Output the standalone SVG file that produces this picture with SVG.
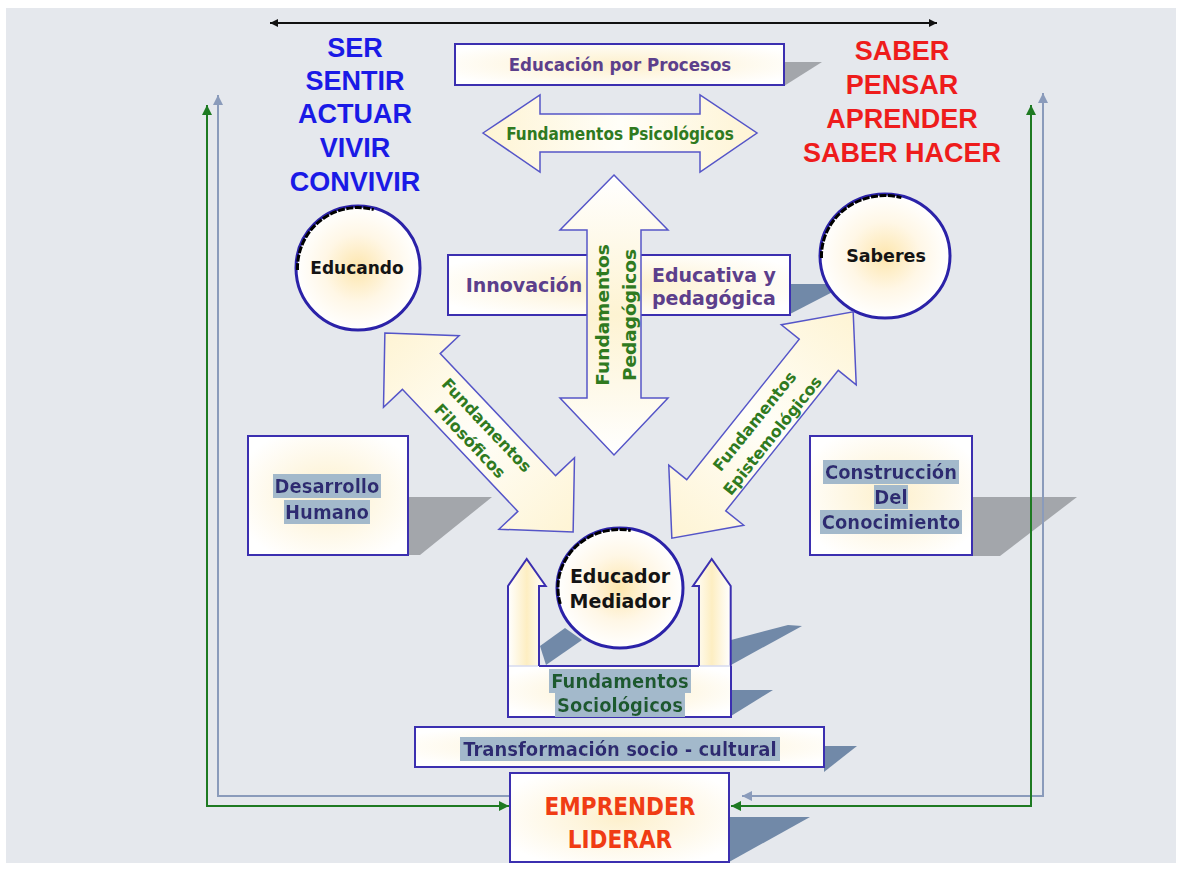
<svg xmlns="http://www.w3.org/2000/svg" width="1181" height="874" viewBox="0 0 1181 874">
<defs>
  <radialGradient id="glow" cx="0.5" cy="0.5" r="0.5">
    <stop offset="0" stop-color="#fde6ad"/>
    <stop offset="0.55" stop-color="#fff7e6"/>
    <stop offset="1" stop-color="#ffffff"/>
  </radialGradient>
  <radialGradient id="boxglow" cx="0.5" cy="0.5" r="0.6">
    <stop offset="0" stop-color="#fdf0cc"/>
    <stop offset="1" stop-color="#ffffff"/>
  </radialGradient>
  <linearGradient id="arrowfill" x1="0" y1="0" x2="1" y2="0">
    <stop offset="0" stop-color="#fef4d4"/>
    <stop offset="0.5" stop-color="#fffef8"/>
    <stop offset="1" stop-color="#fef4d4"/>
  </linearGradient>
  <linearGradient id="vfill" x1="0" y1="0" x2="0" y2="1">
    <stop offset="0" stop-color="#ffffff"/>
    <stop offset="0.5" stop-color="#fdf3d2"/>
    <stop offset="1" stop-color="#ffffff"/>
  </linearGradient>
  <linearGradient id="armfill" x1="0" y1="0" x2="1" y2="0">
    <stop offset="0" stop-color="#ffffff"/>
    <stop offset="0.5" stop-color="#fdeec2"/>
    <stop offset="1" stop-color="#ffffff"/>
  </linearGradient>
  <filter id="hl" x="-0.01" y="0" width="1.02" height="1">
    <feFlood flood-color="#a3b9cb"/>
    <feMerge><feMergeNode/><feMergeNode in="SourceGraphic"/></feMerge>
  </filter>
  <marker id="mBlack" viewBox="0 0 10 10" refX="10" refY="5" markerWidth="10" markerHeight="8" markerUnits="userSpaceOnUse" orient="auto-start-reverse">
    <path d="M0,0 L10,5 L0,10 z" fill="#111"/>
  </marker>
  <marker id="mGreen" viewBox="0 0 10 10" refX="10" refY="5" markerWidth="11" markerHeight="10" markerUnits="userSpaceOnUse" orient="auto-start-reverse">
    <path d="M0,0 L10,5 L0,10 z" fill="#1e7a22"/>
  </marker>
  <marker id="mGray" viewBox="0 0 10 10" refX="10" refY="5" markerWidth="11" markerHeight="10" markerUnits="userSpaceOnUse" orient="auto-start-reverse">
    <path d="M0,0 L10,5 L0,10 z" fill="#8a9bbb"/>
  </marker>
</defs>
<style>
  .box { stroke:#3b2fb0; stroke-width:2; fill:url(#boxglow); }
  .arr { stroke:#5555c8; stroke-width:1.5; fill:url(#arrowfill); }
  .circ { fill:url(#glow); stroke:#2b22a8; stroke-width:3; }
  .jag { fill:none; stroke:#000; stroke-width:3; stroke-dasharray:7 1.5; }
  .shadow { fill:#a3a6ab; }
  .bshadow { fill:#7189a8; }
  .t { font-family:"DejaVu Sans", Verdana, sans-serif; font-weight:bold; text-anchor:middle; }
  .c { font-family:"DejaVu Sans Condensed", "DejaVu Sans", sans-serif; font-stretch:condensed; font-weight:bold; text-anchor:middle; }
  .big { font-family:"Liberation Sans", Arial, sans-serif; font-weight:bold; font-size:27px; text-anchor:middle; }
  .blue { fill:#1a1ae6; }
  .red { fill:#ee1c1c; }
  .purple { fill:#5c3f8c; }
  .green { fill:#2f7a1f; }
  .dgreen { fill:#1a5a2e; }
  .navy { fill:#2d2b72; }
  .dark { fill:#141414; }
  .conn { fill:none; stroke-width:2; }
</style>

<rect x="0" y="0" width="1181" height="874" fill="#ffffff"/>
<rect x="6" y="8" width="1170" height="855" fill="#e5e8ed"/>

<!-- shadows -->
<g id="shadows">
  <polygon class="shadow" points="784,62 822,62 784,86"/>
  <polygon class="bshadow" points="790,284 848,284 790,314"/>
  <polygon class="shadow" points="400,497 492,497 420,555 400,555"/>
  <polygon class="shadow" points="965,497 1077,497 1000,556 965,556"/>
  <polygon class="bshadow" points="540,646 565,628 582,640 546,665"/>
  <polygon class="bshadow" points="731,640 788,625 802,626 731,665"/>
  <polygon class="bshadow" points="731,690 773,690 731,716"/>
  <polygon class="bshadow" points="824,746 857,746 824,772"/>
  <polygon class="bshadow" points="729,817 810,817 729,862"/>
</g>

<!-- connectors -->
<g id="connectors">
  <path class="conn" d="M270,23 H937" stroke="#111" marker-start="url(#mBlack)" marker-end="url(#mBlack)"/>
  <path class="conn" d="M218,95 V796 H512" stroke="#8a9bbb" marker-start="url(#mGray)"/>
  <path class="conn" d="M207,105 V806 H509" stroke="#1e7a22" marker-start="url(#mGreen)" marker-end="url(#mGreen)"/>
  <path class="conn" d="M1043,93 V796 H742" stroke="#8a9bbb" marker-start="url(#mGray)" marker-end="url(#mGray)"/>
  <path class="conn" d="M1031,105 V806 H731" stroke="#1e7a22" marker-start="url(#mGreen)" marker-end="url(#mGreen)"/>
</g>

<!-- side word lists -->
<g id="ser">
  <text class="big blue" x="355" y="57">SER</text>
  <text class="big blue" x="355" y="90">SENTIR</text>
  <text class="big blue" x="355" y="123">ACTUAR</text>
  <text class="big blue" x="355" y="157">VIVIR</text>
  <text class="big blue" x="355" y="191">CONVIVIR</text>
</g>
<g id="saber">
  <text class="big red" x="902" y="60">SABER</text>
  <text class="big red" x="902" y="94">PENSAR</text>
  <text class="big red" x="902" y="128">APRENDER</text>
  <text class="big red" x="902" y="162">SABER HACER</text>
</g>

<g id="educacion-procesos">
  <rect class="box" x="455" y="44" width="329" height="41"/>
  <text class="c purple" x="620" y="71" font-size="18.5">Educación por Procesos</text>
</g>

<g id="psicologicos">
  <polygon class="arr" points="483,133 540,95 540,114 700,114 700,95 757,133 700,172 700,152 540,152 540,172"/>
  <text class="c green" x="620" y="140" font-size="17">Fundamentos Psicológicos</text>
</g>

<g id="innovacion">
  <rect class="box" x="448" y="255" width="342" height="60"/>
  <text class="t purple" x="524" y="292" font-size="19">Innovación</text>
  <text class="t purple" x="652" y="282" font-size="19" style="text-anchor:start">Educativa y</text>
  <text class="t purple" x="652" y="305" font-size="19" style="text-anchor:start">pedagógica</text>
</g>

<g id="pedagogicos">
  <polygon class="arr" style="fill:url(#vfill)" points="614,175 668,230 641,230 641,398 668,398 614,455 560,398 587,398 587,230 560,230"/>
  <text class="t green" font-size="18.5" transform="translate(609,315) rotate(-90)">Fundamentos</text>
  <text class="t green" font-size="18.5" transform="translate(636,315) rotate(-90)">Pedagógicos</text>
</g>

<g id="educando">
  <ellipse class="circ" cx="358" cy="268" rx="62" ry="62"/>
  <path class="jag" d="M297.5,270 A60.5,60.5 0 0 1 373.7,209.6"/>
  <text class="t dark" x="357" y="274" font-size="17">Educando</text>
</g>

<g id="saberes">
  <ellipse class="circ" cx="885" cy="256" rx="65" ry="62"/>
  <path class="jag" d="M821.5,258 A63.5,60.5 0 0 1 901.4,197.6"/>
  <text class="t dark" x="886" y="262" font-size="17.5">Saberes</text>
</g>

<g id="filosoficos" transform="translate(479,432.5) rotate(46.6)">
  <polygon class="arr" points="-137,0 -84,-52 -84,-26 84,-26 84,-52 137,0 84,52 84,26 -84,26 -84,52"/>
  <text class="t green" x="0" y="-5" font-size="16">Fundamentos</text>
  <text class="t green" x="0" y="18" font-size="16">Filosóficos</text>
</g>

<g id="epistemologicos" transform="translate(762.5,425) rotate(-51.3)">
  <polygon class="arr" points="-145,0 -90,-48 -90,-25 90,-25 90,-48 145,0 90,48 90,25 -90,25 -90,48"/>
  <text class="t green" x="-2" y="-3" font-size="16">Fundamentos</text>
  <text class="t green" x="-2" y="20" font-size="16">Epistemológicos</text>
</g>

<g id="desarrollo">
  <rect class="box" x="248" y="436" width="160" height="119"/>
  <text class="c navy" x="327" y="493" font-size="20" filter="url(#hl)">Desarrollo</text>
  <text class="c navy" x="327" y="519" font-size="20" filter="url(#hl)">Humano</text>
</g>

<g id="construccion">
  <rect class="box" x="810" y="436" width="162" height="119"/>
  <text class="c navy" x="891" y="479" font-size="20" filter="url(#hl)">Construcción</text>
  <text class="c navy" x="891" y="504" font-size="20" filter="url(#hl)">Del</text>
  <text class="c navy" x="891" y="529" font-size="20" filter="url(#hl)">Conocimiento</text>
</g>

<g id="sociologicos">
  <rect x="508" y="666" width="223" height="51" fill="url(#boxglow)"/>
  <path d="M508,666 V586 L526.7,559 L545.7,586 H539 V666" fill="url(#armfill)" stroke="#3b2fb0" stroke-width="2"/>
  <path d="M699,666 V586 H693 L711.7,559 L730.7,586 V666" fill="url(#armfill)" stroke="#3b2fb0" stroke-width="2"/>
  <path d="M508,666 V717 H731 V666 M539,666 H699" fill="none" stroke="#3b2fb0" stroke-width="2"/>
  <path d="M509,666 H538 M700,666 H730" fill="none" stroke="#d6daf0" stroke-width="1.5"/>
  <text class="c dgreen" x="620" y="688" font-size="20" filter="url(#hl)">Fundamentos</text>
  <text class="c dgreen" x="620" y="712" font-size="20" filter="url(#hl)">Sociológicos</text>
</g>

<g id="educador">
  <ellipse class="circ" cx="620" cy="588" rx="63" ry="60"/>
  <path class="jag" d="M560.3,604 A61.5,58.5 0 0 1 630.7,530.4"/>
  <text class="t dark" x="620" y="583" font-size="19">Educador</text>
  <text class="t dark" x="620" y="608" font-size="19">Mediador</text>
</g>

<g id="transformacion">
  <rect class="box" x="415" y="727" width="409" height="40"/>
  <text class="c navy" x="620" y="756" font-size="20" filter="url(#hl)">Transformación socio - cultural</text>
</g>

<g id="emprender">
  <rect class="box" x="510" y="773" width="219" height="89"/>
  <text class="c" x="620" y="815" font-size="24" fill="#f03c14">EMPRENDER</text>
  <text class="c" x="620" y="848" font-size="24" fill="#f03c14">LIDERAR</text>
</g>
</svg>
